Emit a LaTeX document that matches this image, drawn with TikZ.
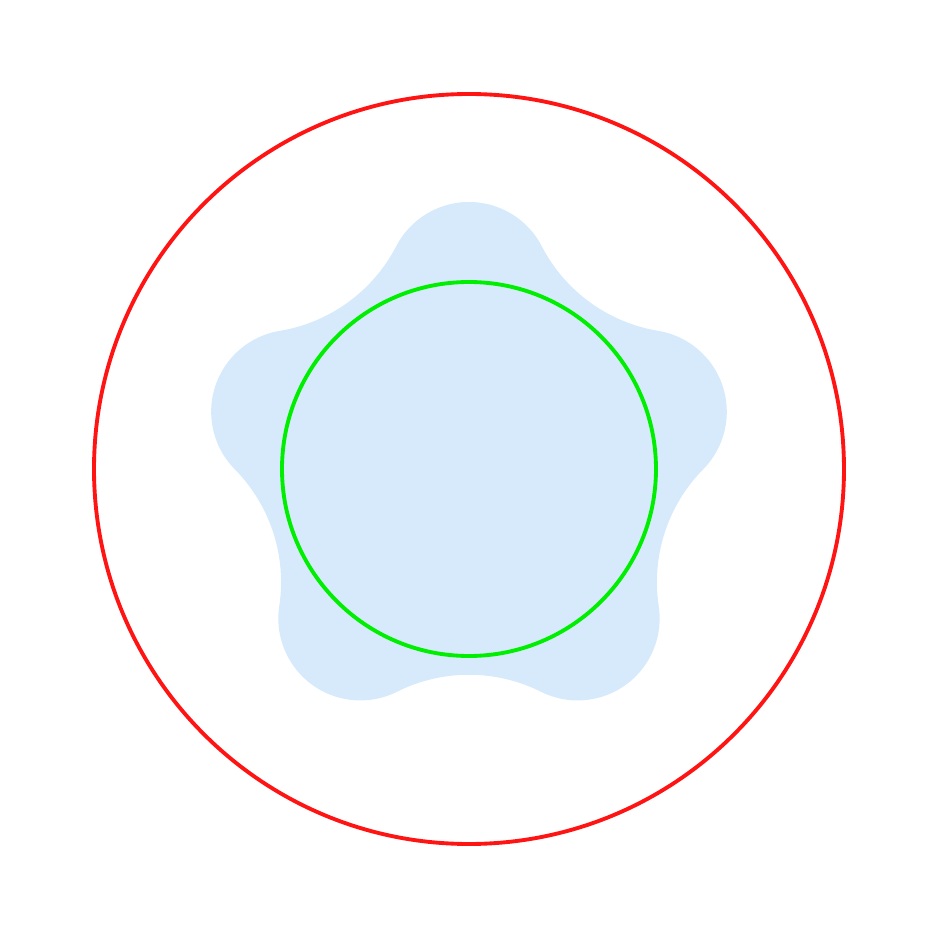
\documentclass[tikz,border=0pt]{standalone}
\usepackage{tikz}
\usetikzlibrary{calc}
\definecolor{ringred}{RGB}{255,20,20}
\definecolor{ringgreen}{RGB}{0,238,0}
\definecolor{petalblue}{RGB}{214,234,251}

\begin{document}
\begin{tikzpicture}[
  ring/.style={line width=1.1pt},
  petal/.style={fill=petalblue, draw=none}
]
\useasboundingbox (-4.69,-4.69) rectangle (4.69,4.69);

% Five-lobed blob
\fill[petal] ($(90:1.85)+(27.4:0.82)$)
  \foreach \a in {90,162,234,306,378} {
    arc[start angle=\a-62.6, end angle=\a+62.6, radius=0.82]
    arc[start angle=\a+242.6, end angle=\a+189.4, radius=1.607]
  } -- cycle;

% Circles
\node[ring, draw=ringred, circle, minimum size=7.5cm, inner sep=0pt] (outer) at (0,0) {};
\node[ring, draw=ringgreen, circle, minimum size=3.74cm, inner sep=0pt] (inner) at (0,0) {};

\end{tikzpicture}
\end{document}
